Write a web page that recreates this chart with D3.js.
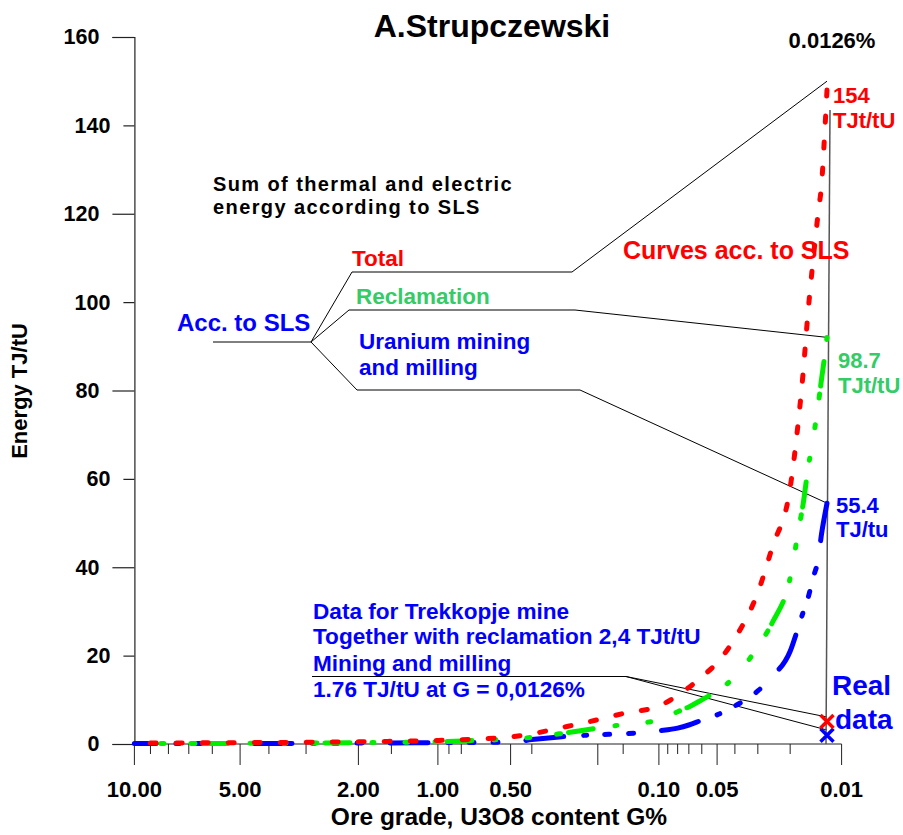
<!DOCTYPE html>
<html><head><meta charset="utf-8">
<script src="https://cdn.jsdelivr.net/npm/d3@7"></script>
<style>
body{margin:0;background:#fff}
text{font-family:"Liberation Sans",Arial,Helvetica,sans-serif;font-weight:bold}
</style></head><body>
<svg id="chart" width="903" height="835"></svg>
<script>
// ---------------- data ----------------
const grades = [10,7,5,3,2,1.5,1,0.7,0.5,0.4,0.3,0.2,0.15,0.1,0.08,0.07,0.06,0.05,0.04,0.03,0.025,0.02,0.018,0.017,0.016,0.015,0.014,0.0135,0.013,0.0126];
const totalSLS = [0.2,0.25,0.3,0.4,0.5,0.6,0.8,1.1,1.6,2.3,3.6,5.5,6.9,8.6,11,12.8,15.2,18.4,23.9,34.3,44.6,58,73.5,84,97.5,109.5,121,126.4,137.5,148];
const reclamationSLS = [0.1,0.1,0.15,0.2,0.3,0.35,0.5,0.8,1.1,1.5,2.3,3.6,4.4,5.4,7.3,8.4,10,12,15.2,22,27.5,37.6,48.5,54.3,62.2,69,77.5,82.5,87.5,92];
const miningSLS = [0.1,0.1,0.1,0.15,0.2,0.25,0.3,0.35,0.4,1.0,1.6,2.1,2.3,3.0,3.6,4.3,5.4,6.6,8.6,12,15.3,21,26.6,29.8,33,37.6,42.3,47.5,51.5,54.5];
const realGrade = 0.0126;
const realTotal = 5.1;
const realMining = 2.0;

const energyTicks = [0,20,40,60,80,100,120,140,160];
const gradeTicksMajor = [10,5,2,1,0.5,0.2,0.1,0.05,0.01];
const gradeTicksMinor = [9,8,7,6,4,3,1.5,0.9,0.8,0.4,0.15,0.09,0.08,0.07,0.06,0.04,0.03,0.02];
const gradeLabelValues = [10,5,2,1,0.5,0.1,0.05,0.01];
const gradeLabelTexts = ["10.00","5.00","2.00","1.00","0.50","0.10","0.05","0.01"];

// ---------------- scales ----------------
// hand-drawn, piecewise logarithmic grade axis (calibrated breakpoints)
const gradeBreaks = [10,5,2,1,0.5,0.2,0.1,0.05,0.0126,0.01];
const gradeBreakPx = [134.4,240.1,358.4,437.9,510.6,597.8,658.9,717.1,827,841.6];
const xLog = d3.scaleLinear().domain(gradeBreaks.map(Math.log10)).range(gradeBreakPx);
const xg = g => xLog(Math.log10(g));
const y = d3.scaleLinear().domain([0,160]).range([744,37]);

const svg = d3.select("#chart");
const RED="#ff0000", GREEN="#00ee00", GREENTXT="#33cc66", BLUE="#0000ff";

// ---------------- axes ----------------
const yAxis = svg.append("g").attr("transform",`translate(${xg(10)},0)`)
  .call(d3.axisLeft(y).tickValues(energyTicks).tickSizeOuter(0).tickSize(22).tickPadding(13));
yAxis.selectAll(".tick").each(function(d,i){
  const long = i%2===0;
  d3.select(this).select("line").attr("x2", long?-22:-11);
  d3.select(this).select("text").attr("x", long?-35:-24);
});
yAxis.selectAll("text").attr("font-size",21.5).attr("fill","#000").attr("font-family",null);
yAxis.selectAll("line,path").attr("stroke","#222").attr("stroke-width",1.2);

const allTicks = gradeTicksMajor.concat(gradeTicksMinor);
const gAxis = svg.append("g").attr("transform",`translate(0,${y(0)})`);
gAxis.append("line").attr("x1",xg(10)).attr("x2",xg(0.01)).attr("y1",0).attr("y2",0)
  .attr("stroke","#222").attr("stroke-width",1.2);
gAxis.selectAll("line.tk").data(allTicks).join("line").attr("class","tk")
  .attr("x1",d=>xg(d)).attr("x2",d=>xg(d)).attr("y1",0)
  .attr("y2",d=>gradeTicksMajor.includes(d)?21:10)
  .attr("stroke","#222").attr("stroke-width",1);
gAxis.selectAll("text.tl").data(gradeLabelValues).join("text").attr("class","tl")
  .attr("x",d=>xg(d)).attr("y",53).attr("text-anchor","middle").attr("font-size",22)
  .text((d,i)=>gradeLabelTexts[i]);

svg.append("text").attr("x",499).attr("y",825).attr("text-anchor","middle")
  .attr("font-size",24.5).text("Ore grade, U3O8 content G%");
svg.append("text").attr("transform","translate(27,391) rotate(-90)").attr("text-anchor","middle")
  .attr("font-size",22).text("Energy TJ/tU");

// ---------------- annotation lines ----------------
const ann = svg.append("g").attr("fill","none").attr("stroke","#000").attr("stroke-width",1);
const xEnd = xg(realGrade);
ann.append("path").attr("d",`M213,342H311`);
ann.append("path").attr("d",`M311,342L352,272H572L${xEnd},${y(150)}`);
ann.append("path").attr("d",`M311,342L349,310H575L${xEnd+1},${y(92)}`);
ann.append("path").attr("d",`M311,342L357,390H580L${xEnd},${y(54.5)}`);
ann.append("path").attr("d",`M312,676.5H626L${xEnd},717`);
ann.append("path").attr("d",`M626,676.5L${xEnd},730`);
svg.append("line").attr("x1",xEnd+3).attr("y1",y(143.5)).attr("x2",xEnd-1).attr("y2",y(0))
  .attr("stroke","#555").attr("stroke-width",1.5);

// ---------------- curves (dash pattern starts at the steep, low-grade end) ----------------
const line = d3.line().x(d=>xg(d[0])).y(d=>y(d[1])).curve(d3.curveMonotoneX);
const series = v => grades.map((g,i)=>[g,v[i]]).reverse();
const curves = [
  {v:miningSLS, c:BLUE, dash:"38 28 5 19 5 18 3 20"},
  {v:reclamationSLS, c:GREEN, dash:"2 22 25 8 4 27 3 31"},
  {v:totalSLS, c:RED, dash:"6 20"}
];
svg.append("g").selectAll("path").data(curves).join("path")
  .attr("d",d=>line(series(d.v))).attr("fill","none").attr("stroke",d=>d.c)
  .attr("stroke-width",5).attr("stroke-linecap","round").attr("stroke-dasharray",d=>d.dash);

// ---------------- real data markers ----------------
function cross(cx,cy,s,col){
  svg.append("path").attr("d",`M${cx-s},${cy-s}L${cx+s},${cy+s}M${cx-s},${cy+s}L${cx+s},${cy-s}`)
    .attr("stroke",col).attr("stroke-width",3.5).attr("fill","none");
}
cross(xEnd,y(realMining),6.5,BLUE);
cross(xEnd,y(realTotal),6.5,RED);

// ---------------- texts ----------------
function txt(x,yy,s,size,col,anchor){
  return svg.append("text").attr("x",x).attr("y",yy).attr("font-size",size)
    .attr("fill",col||"#000").attr("text-anchor",anchor||"start").text(s);
}
txt(492,37,"A.Strupczewski",32,"#000","middle");
txt(832,48,"0.0126%",22,"#000","middle");
txt(213,190.5,"Sum of thermal and electric",20,"#000").attr("letter-spacing",1.4);
txt(213,214,"energy according to SLS",20,"#000").attr("letter-spacing",1.4);
txt(352,265.5,"Total",22.5,RED);
txt(356,304,"Reclamation",22.5,GREENTXT);
txt(177,330.5,"Acc. to SLS",24,BLUE);
txt(359,349,"Uranium mining",22.5,BLUE);
txt(359,375,"and milling",22.5,BLUE);
txt(623,259,"Curves acc. to SLS",25,RED);
txt(833,102.5,"154",22,RED);
txt(833,128,"TJt/tU",22,RED);
txt(838,368,"98.7",22,GREENTXT);
txt(838,393,"TJt/tU",22,GREENTXT);
txt(836,513,"55.4",22,BLUE);
txt(836,537,"TJ/tu",22,BLUE);
txt(313,619,"Data for Trekkopje mine",22.6,BLUE);
txt(313,644,"Together with reclamation 2,4 TJt/tU",22.6,BLUE);
txt(313,670.5,"Mining and milling",22.6,BLUE);
txt(313,696.5,"1.76 TJ/tU at G = 0,0126%",22.6,BLUE);
txt(832,695,"Real",28,BLUE);
txt(835,729,"data",28,BLUE);
</script>
</body></html>
